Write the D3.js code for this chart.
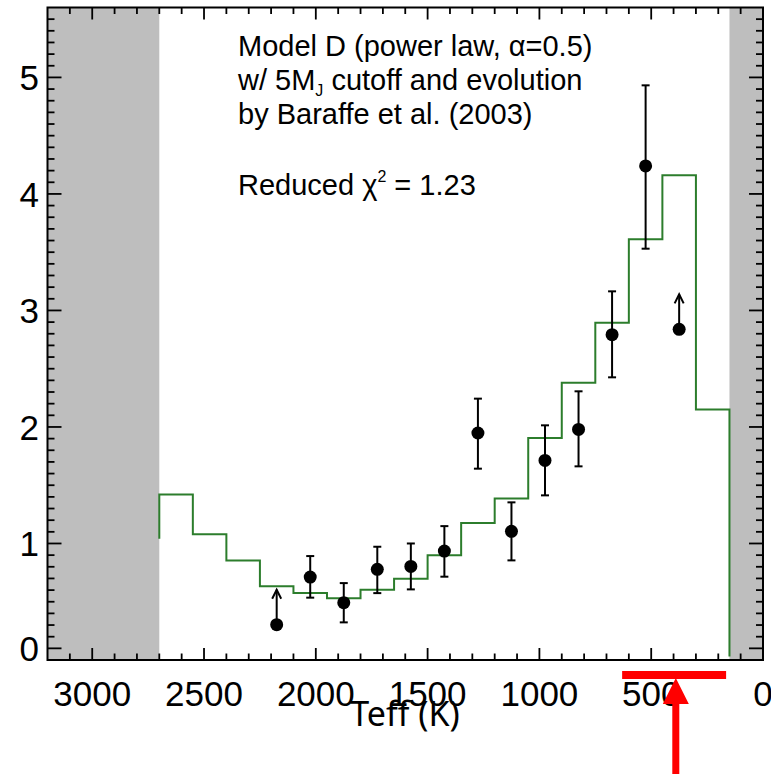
<!DOCTYPE html>
<html>
<head>
<meta charset="utf-8">
<script src="https://cdn.jsdelivr.net/npm/d3@7"></script>
<style>
  html, body { margin: 0; padding: 0; background: #fff; }
  svg { display: block; }
</style>
</head>
<body>
<svg id="chart" width="771" height="774"></svg>
<script>
// ---------------- data ----------------
// model histogram (green step line): bin edges (K) and values
const binEdges = [2700, 2550, 2400, 2250, 2100, 1950, 1800, 1650, 1500, 1350, 1200, 1050, 900, 750, 600, 450, 300, 150];
const modelValues = [1.42, 1.08, 0.855, 0.632, 0.574, 0.531, 0.603, 0.698, 0.898, 1.175, 1.385, 1.905, 2.38, 2.895, 3.61, 4.16, 2.15];
const modelStartValue = 1.04;   // where the step line begins at 2700 K
const modelEndValue = 0.03;     // where the step line ends at 150 K

// observed points
const pointTeff  = [2175, 2025, 1875, 1725, 1575, 1425, 1275, 1125, 975, 825, 675, 525, 375];
const pointValue = [0.303, 0.712, 0.492, 0.778, 0.803, 0.935, 1.948, 1.104, 1.713, 1.979, 2.792, 4.24, 2.838];
const pointLow   = [null, 0.535, 0.323, 0.574, 0.606, 0.715, 1.642, 0.855, 1.413, 1.662, 2.426, 3.53, null];
const pointHigh  = [null, 0.892, 0.660, 0.972, 1.000, 1.149, 2.243, 1.353, 2.014, 2.306, 3.164, 4.932, null];
const lowerLimit = [true, false, false, false, false, false, false, false, false, false, false, false, true];

// excluded (shaded) Teff ranges
const shadedRanges = [[3200, 2700], [150, 0]];

// axes
const xDomain = [3200, 0];
const yDomain = [0, 5.6];
const xMajorTicks = [3000, 2500, 2000, 1500, 1000, 500, 0];
const xTickLabels = ["3000", "2500", "2000", "1500", "1000", "500", "0"];
const xMinorStep = 100;
const yMajorTicks = [0.1, 1, 2, 3, 4, 5];
const yTickLabels = ["0", "1", "2", "3", "4", "5"];
const yMinorStep = 0.1;

// annotation text ( |..| = subscript, ^..^ = superscript )
const annotationLines = ["Model D (power law, \u03B1=0.5)", "w/ 5M|J| cutoff and evolution", "by Baraffe et al. (2003)", "", "Reduced \u03C7^2^ = 1.23"];
const xAxisTitle = "Teff (K)";
const highlightRange = [630, 165];  // red bar (K)
const highlightArrowTeff = 390;     // red arrow (K)

// ---------------- drawing ----------------
const svg = d3.select("#chart");
const plot = {left: 47.5, right: 763, top: 7.5, bottom: 660};

const x = d3.scaleLinear().domain(xDomain).range([plot.left, plot.right]);
const y = d3.scaleLinear().domain(yDomain).range([plot.bottom, plot.top]);

// shaded regions
svg.append("g").selectAll("rect").data(shadedRanges).join("rect")
  .attr("x", d => x(d[0]))
  .attr("width", d => x(d[1]) - x(d[0]))
  .attr("y", plot.top)
  .attr("height", plot.bottom - plot.top)
  .attr("fill", "#bebebe");

// model step line
const stepPts = [[binEdges[0], modelStartValue]];
modelValues.forEach((v, i) => { stepPts.push([binEdges[i], v]); stepPts.push([binEdges[i + 1], v]); });
stepPts.push([binEdges[binEdges.length - 1], modelEndValue]);
svg.append("path")
  .attr("d", d3.line().x(d => x(d[0])).y(d => y(d[1]))(stepPts))
  .attr("fill", "none")
  .attr("stroke", "#2c7d2c")
  .attr("stroke-width", 2);

// error bars
const pts = pointTeff.map((t, i) => ({t, v: pointValue[i], lo: pointLow[i], hi: pointHigh[i], lim: lowerLimit[i]}));
const gPts = svg.append("g").attr("stroke", "#000").attr("stroke-width", 2).attr("fill", "none");
pts.filter(d => !d.lim).forEach(d => {
  gPts.append("line").attr("x1", x(d.t)).attr("x2", x(d.t)).attr("y1", y(d.lo)).attr("y2", y(d.hi));
  gPts.append("line").attr("x1", x(d.t) - 4).attr("x2", x(d.t) + 4).attr("y1", y(d.lo)).attr("y2", y(d.lo));
  gPts.append("line").attr("x1", x(d.t) - 4).attr("x2", x(d.t) + 4).attr("y1", y(d.hi)).attr("y2", y(d.hi));
});
// lower-limit arrows
pts.filter(d => d.lim).forEach(d => {
  const cx = x(d.t), cy = y(d.v), tip = cy - 35;
  gPts.append("line").attr("x1", cx).attr("x2", cx).attr("y1", cy).attr("y2", tip);
  gPts.append("path").attr("d", `M${cx - 4.5},${tip + 9}L${cx},${tip}L${cx + 4.5},${tip + 9}`);
});
// dots
svg.append("g").selectAll("circle").data(pts).join("circle")
  .attr("cx", d => x(d.t)).attr("cy", d => y(d.v)).attr("r", 6.5).attr("fill", "#000");

// frame
svg.append("rect")
  .attr("x", plot.left).attr("y", plot.top)
  .attr("width", plot.right - plot.left).attr("height", plot.bottom - plot.top)
  .attr("fill", "none").attr("stroke", "#000").attr("stroke-width", 2);

// ticks
const xMinor = d3.range(xDomain[0] - xMinorStep, 0, -xMinorStep).filter(t => !xMajorTicks.includes(t));
const yMinor = d3.range(0.2, 5.55, yMinorStep).map(v => Math.round(v * 10) / 10).filter(v => !yMajorTicks.includes(v));
const gT = svg.append("g").attr("stroke", "#000").attr("stroke-width", 1.8);
const addX = (vals, len) => vals.forEach(t => {
  gT.append("line").attr("x1", x(t)).attr("x2", x(t)).attr("y1", plot.bottom).attr("y2", plot.bottom - len);
  gT.append("line").attr("x1", x(t)).attr("x2", x(t)).attr("y1", plot.top).attr("y2", plot.top + len);
});
const addY = (vals, len) => vals.forEach(v => {
  gT.append("line").attr("y1", y(v)).attr("y2", y(v)).attr("x1", plot.left).attr("x2", plot.left + len);
  gT.append("line").attr("y1", y(v)).attr("y2", y(v)).attr("x1", plot.right).attr("x2", plot.right - len);
});
addX(xMajorTicks, 12); addX(xMinor, 6.5);
addY(yMajorTicks, 14); addY(yMinor, 7);

// tick labels
const tickFont = "'Liberation Sans', Arial, sans-serif";
svg.append("g").selectAll("text").data(xMajorTicks).join("text")
  .attr("x", d => x(d)).attr("y", 706)
  .attr("text-anchor", "middle")
  .attr("font-family", tickFont).attr("font-size", 35)
  .text((d, i) => xTickLabels[i]);
svg.append("g").selectAll("text").data(yMajorTicks).join("text")
  .attr("x", 39).attr("y", d => y(d)).attr("dy", "0.36em")
  .attr("text-anchor", "end")
  .attr("font-family", tickFont).attr("font-size", 35)
  .text((d, i) => yTickLabels[i]);

// annotation block
const annSize = 29;
const ann = svg.append("g").attr("font-family", "'Liberation Sans', Arial, sans-serif").attr("font-size", annSize).attr("fill", "#000");
const lineY = [56, 90, 124, 158, 195];
annotationLines.forEach((s, i) => {
  if (!s) return;
  const t = ann.append("text").attr("x", 238).attr("y", lineY[i]);
  const parts = s.split(/(\|[^|]+\||\^[^^]+\^)/).filter(p => p);
  let pending = 0;
  parts.forEach(p => {
    if (p.startsWith("|")) {
      t.append("tspan").attr("font-size", 16).attr("dy", pending + 6).text(p.slice(1, -1));
      pending = -6;
    } else if (p.startsWith("^")) {
      t.append("tspan").attr("font-size", 16).attr("dy", pending - 13).text(p.slice(1, -1));
      pending = 13;
    } else {
      t.append("tspan").attr("dy", pending).text(p);
      pending = 0;
    }
  });
});

// x-axis title overlay
svg.append("text")
  .attr("x", 405).attr("y", 726)
  .attr("text-anchor", "middle")
  .attr("font-family", "'Noto Sans', 'Open Sans', sans-serif")
  .attr("font-size", 34)
  .attr("fill", "#000")
  .text(xAxisTitle);

// red highlight
svg.append("rect")
  .attr("x", x(highlightRange[0])).attr("width", x(highlightRange[1]) - x(highlightRange[0]))
  .attr("y", 671).attr("height", 8).attr("fill", "#f00");
const ax = x(highlightArrowTeff);
svg.append("rect").attr("x", ax - 3.5).attr("width", 7).attr("y", 700).attr("height", 80).attr("fill", "#f00");
svg.append("path").attr("d", `M${ax},678L${ax + 13},704L${ax - 13},704Z`).attr("fill", "#f00");
</script>
</body>
</html>
